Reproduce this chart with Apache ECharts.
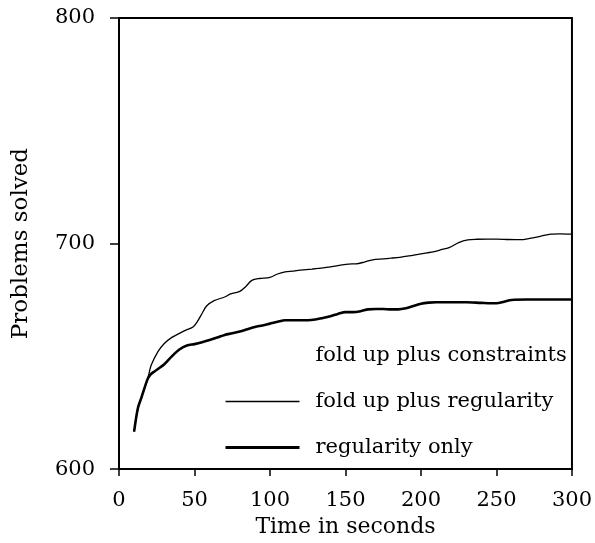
<!DOCTYPE html>
<html>
<head>
<meta charset="utf-8">
<script src="https://cdn.jsdelivr.net/npm/echarts@6/dist/echarts.min.js"></script>
<style>
  html, body { margin: 0; padding: 0; background: #fff; }
  #chart { width: 595px; height: 543px; }
</style>
</head>
<body>
<div id="chart"></div>
<script>
// Time (s) and cumulative problems solved for each configuration
const timeReg = [10, 12.5, 15, 19, 21, 23.5, 26, 30, 35, 40, 45, 50, 55, 60, 65, 70, 75, 80, 85, 90, 95, 100, 105, 110, 115, 120, 125, 130, 135, 140, 145, 150, 155, 160, 165, 170, 175, 180, 185, 190, 195, 200, 205, 210, 220, 230, 240, 250, 255, 260, 270, 280, 290, 300];
const regularityOnly = [616.6, 627, 632, 640, 642, 643.3, 644.5, 646.5, 650, 653, 654.8, 655.4, 656.2, 657.2, 658.3, 659.5, 660.2, 661, 662, 663, 663.7, 664.5, 665.3, 666, 666, 666, 666, 666.3, 667, 667.8, 668.8, 669.6, 669.6, 670, 670.8, 671, 671, 670.8, 670.8, 671.3, 672.3, 673.3, 673.8, 674, 674, 674, 673.7, 673.5, 674.2, 675, 675.2, 675.2, 675.2, 675.2];

const timeFold = [10, 12.5, 15, 19, 21.3, 25.7, 30, 35, 40, 45, 49, 52, 55, 58, 63, 70, 74, 80, 84, 88, 93, 100, 105, 110, 115, 120, 128, 135, 140, 146, 152, 157, 162, 168, 175, 180, 186, 192, 198, 204, 208, 214, 219, 225, 231, 237, 244, 250, 258, 266, 272, 279, 286, 292, 300];
const foldRegularity = [616.6, 627, 632, 640, 646, 652, 655.7, 658.4, 660.2, 661.8, 663, 665.5, 669, 672.3, 674.7, 676.3, 677.7, 678.8, 681, 683.7, 684.5, 685, 686.5, 687.4, 687.8, 688.2, 688.7, 689.2, 689.7, 690.3, 690.9, 691, 691.7, 692.8, 693.2, 693.5, 693.9, 694.5, 695.2, 695.9, 696.3, 697.4, 698.3, 700.4, 701.6, 701.9, 702, 702, 701.8, 701.7, 702.3, 703.2, 704.2, 704.3, 704.2];

const xTicks = [0, 50, 100, 150, 200, 250, 300];
const yTicks = [600, 700, 800];

const seriesNames = ['fold up plus constraints', 'fold up plus regularity', 'regularity only'];

const pairs = (xs, ys) => xs.map((x, i) => [x, ys[i]]);

const serif = 'DejaVu Serif';
const chart = echarts.init(document.getElementById('chart'), null, { renderer: 'canvas' });

chart.setOption({
  backgroundColor: '#fff',
  animation: false,
  grid: {
    left: 119, right: 23, top: 18, bottom: 72,
    show: true, borderColor: '#000', borderWidth: 2, backgroundColor: 'transparent'
  },
  xAxis: {
    type: 'value',
    min: xTicks[0], max: xTicks[xTicks.length - 1], interval: 50,
    name: 'Time in seconds', nameLocation: 'middle', nameGap: 45,
    nameTextStyle: { fontFamily: serif, fontSize: 22, color: '#000' },
    axisLine: { lineStyle: { color: '#000', width: 2 } },
    axisTick: { show: true, length: 7, inside: false, lineStyle: { color: '#000', width: 1.5 } },
    axisLabel: { fontFamily: serif, fontSize: 21, color: '#000', margin: 21 },
    splitLine: { show: false }
  },
  yAxis: {
    type: 'value',
    min: yTicks[0], max: yTicks[yTicks.length - 1], interval: 100,
    name: 'Problems solved', nameLocation: 'middle', nameGap: 86,
    nameTextStyle: { fontFamily: serif, fontSize: 23, color: '#000' },
    axisLine: { lineStyle: { color: '#000', width: 2 } },
    axisTick: { show: true, length: 9, inside: false, lineStyle: { color: '#000', width: 1.5 } },
    axisLabel: { fontFamily: serif, fontSize: 21, color: '#000', margin: 24 },
    splitLine: { show: false }
  },
  legend: {
    orient: 'vertical',
    left: 224, top: 345, padding: 0,
    itemWidth: 74, itemHeight: 14, itemGap: 25,
    textStyle: { fontFamily: serif, fontSize: 21, color: '#000', padding: [0, 0, 0, 11] },
    data: [
      { name: seriesNames[0], itemStyle: { opacity: 0 }, lineStyle: { opacity: 0 } },
      { name: seriesNames[1], itemStyle: { opacity: 0 }, lineStyle: { color: '#000', width: 1.3 } },
      { name: seriesNames[2], itemStyle: { opacity: 0 }, lineStyle: { color: '#000', width: 3 } }
    ]
  },
  series: [
    {
      name: seriesNames[0], type: 'line', symbol: 'none', data: [],
      lineStyle: { color: '#000', width: 1 }, itemStyle: { color: '#000' }
    },
    {
      name: seriesNames[1], type: 'line', symbol: 'none', smooth: 0.3,
      data: pairs(timeFold, foldRegularity),
      lineStyle: { color: '#000', width: 1.3 }, itemStyle: { color: '#000' }
    },
    {
      name: seriesNames[2], type: 'line', symbol: 'none', smooth: 0.3,
      data: pairs(timeReg, regularityOnly),
      lineStyle: { color: '#000', width: 2.6 }, itemStyle: { color: '#000' }
    }
  ]
});
</script>
</body>
</html>
